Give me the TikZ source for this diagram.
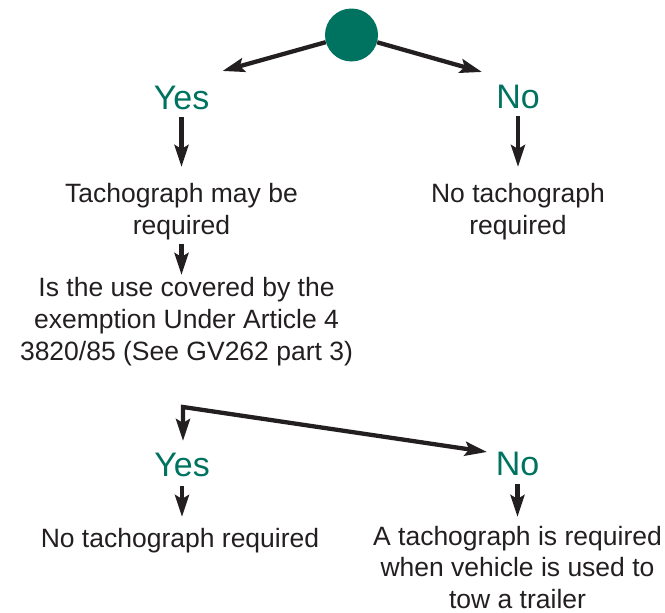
\documentclass[tikz,border=0pt]{standalone}
\usepackage{fontspec}
\setmainfont{Liberation Sans}
\usetikzlibrary{arrows.meta}
\definecolor{tealg}{RGB}{0,115,96}
\definecolor{ink}{RGB}{35,31,32}
\tikzset{
  arr/.style={draw=ink, line width=4.3pt, -{Stealth[length=22pt,width=14pt,inset=4pt]}},
  choice/.style={text=tealg, inner sep=0pt, font=\fontsize{34}{40}\selectfont},
  txt/.style={text=ink, inner sep=0pt, anchor=north, align=center, font=\fontsize{26.5}{32}\selectfont},
}
\begin{document}
\begin{tikzpicture}[x=1pt,y=-1pt]
\useasboundingbox (0,0) rectangle (665,613);
\node[circle, fill=tealg, minimum size=53pt, inner sep=0pt] (circ) at (351.5,35) {};
\node[choice] (yes1) at (181.5,98) {Yes};
\node[choice] (no1) at (518,97) {No};
\node[txt] (tach) at (181.5,183) {Tachograph may be\\required};
\node[txt] (notach1) at (518,183) {No tachograph\\required};
\node[txt] (question) at (186.5,277) {Is the use covered by the\\exemption Under Article 4\\3820/85 (See GV262 part 3)};
\node[choice] (yes2) at (182,465) {Yes};
\node[choice] (no2) at (517.5,464) {No};
\node[txt] (notach2) at (180,528) {No tachograph required};
\node[txt, font=\fontsize{26.5}{31.5}\selectfont] (trailer) at (517.5,526) {A tachograph is required\\when vehicle is used to\\tow a trailer};
\coordinate (t1) at (222.5,71);
\coordinate (t2) at (482,72);
\coordinate (fork) at (183,407);
\coordinate (t5) at (183,441);
\coordinate (t6) at (487,452);
\draw[arr] (circ) -- (t1);
\draw[arr] (circ) -- (t2);
\draw[arr, shorten <=7pt, shorten >=16pt] (yes1.south) -- (yes1.south |- tach.north);
\draw[arr, shorten <=7pt, shorten >=16pt] (no1.south) -- (no1.south |- notach1.north);
\draw[arr, shorten <=3.5pt, shorten >=2pt] (tach.south) -- (tach.south |- question.north);
\draw[draw=ink, line width=4.3pt, line join=miter, {Stealth[length=22pt,width=14pt,inset=4pt]}-{Stealth[length=22pt,width=14pt,inset=4pt]}] (t5) -- (fork) -- (t6);
\draw[arr, shorten <=9pt, shorten >=11pt] (yes2.south) -- (yes2.south |- notach2.north);
\draw[arr, shorten <=8pt, shorten >=9pt] (no2.south) -- (no2.south |- trailer.north);
\end{tikzpicture}
\end{document}
